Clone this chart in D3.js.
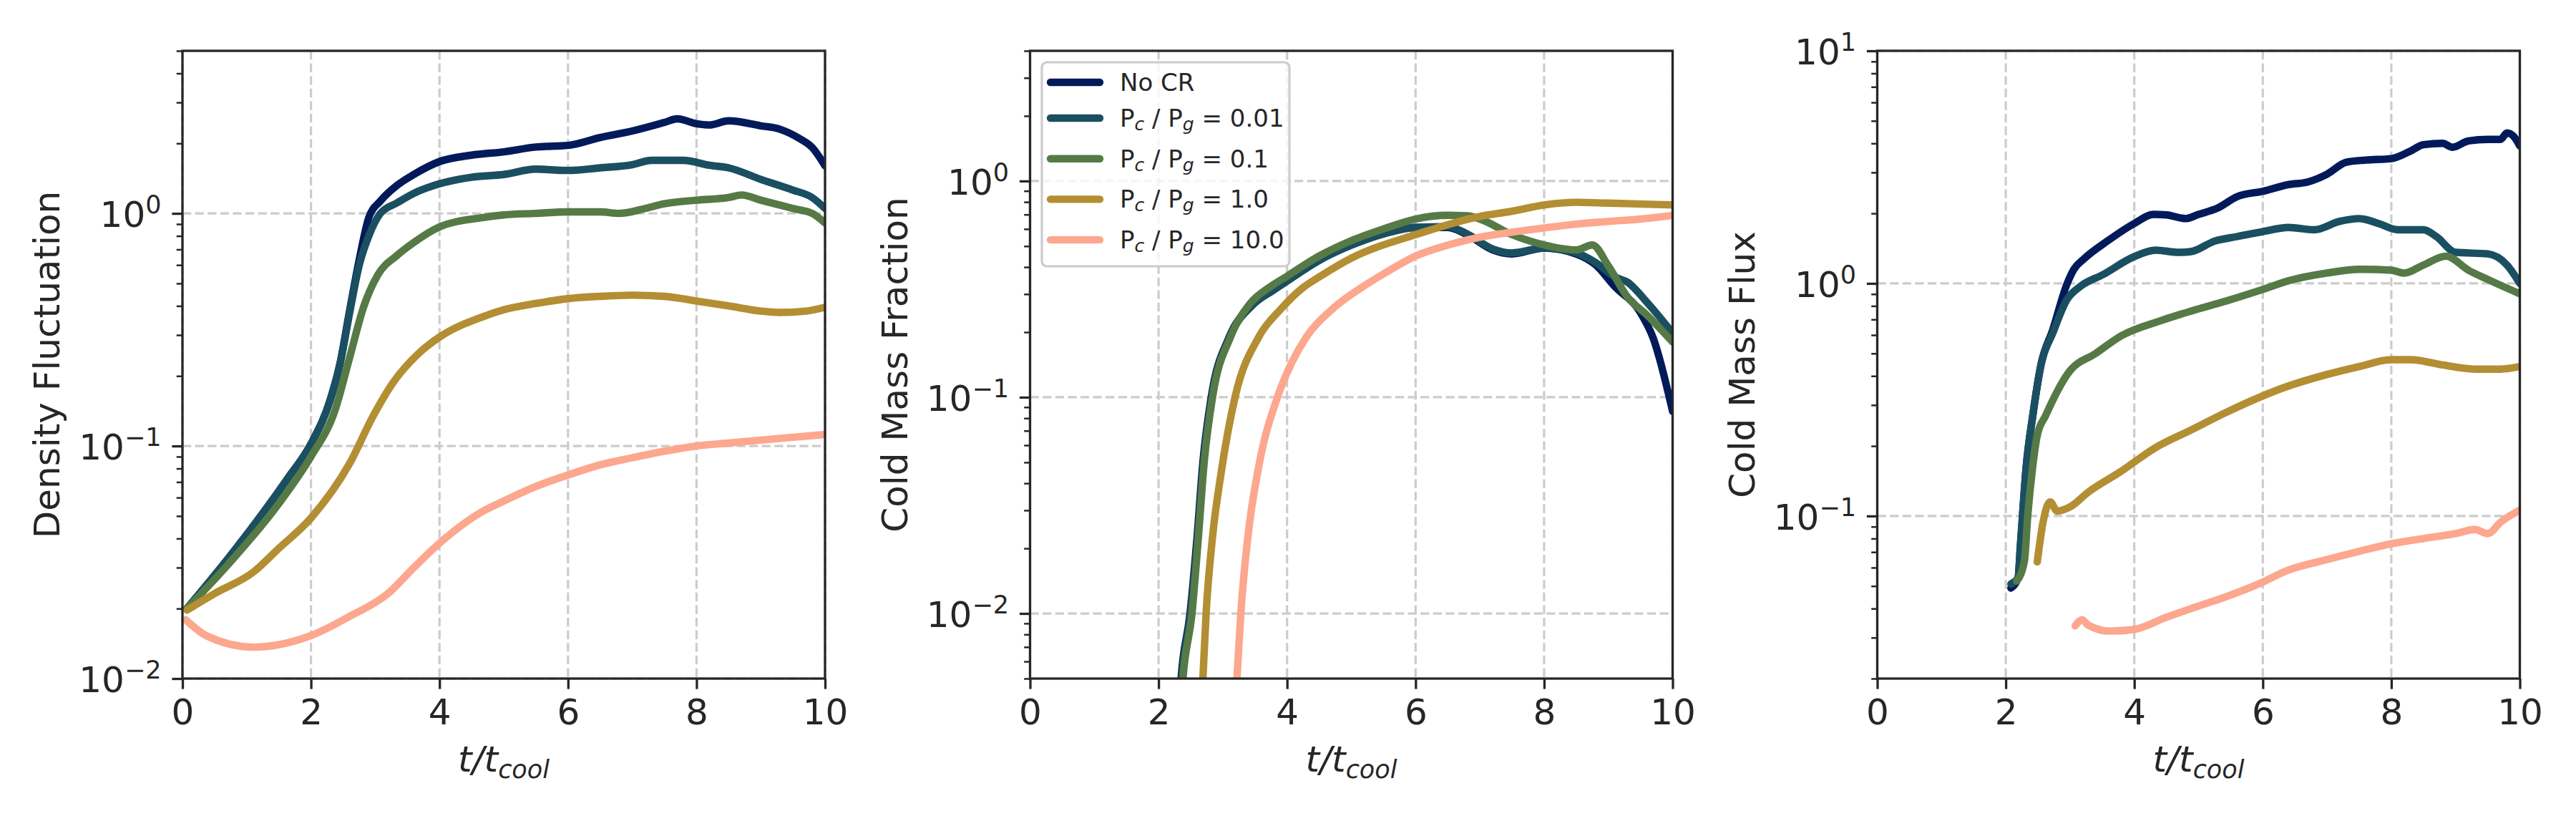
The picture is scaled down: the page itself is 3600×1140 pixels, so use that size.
<!DOCTYPE html>
<html>
<head>
<meta charset="utf-8">
<script src="https://cdn.jsdelivr.net/npm/d3@7"></script>
<style>
  body { margin: 0; background: #fff; }
  svg text { font-family: "DejaVu Sans", sans-serif; fill: #262626; }
</style>
</head>
<body>
<div id="chart"></div>
<script>
// Series labels and colours
const seriesNames = ["No CR", "0.01", "0.1", "1.0", "10.0"];
const seriesColors = ["#031a5a", "#1a4f61", "#567a46", "#b38e33", "#fca78e"];

const xTicks = [0, 2, 4, 6, 8, 10];

// Panel 1: density fluctuation  [t/tcool, value]
const densNoCR = [[0.07,0.02],[0.74,0.0336],[1.63,0.072],[2,0.102],[2.3,0.158],[2.45,0.225],[2.6,0.38],[2.75,0.63],[2.9,0.96],[3.08,1.13],[3.34,1.32],[3.6,1.47],[4,1.67],[4.5,1.78],[5,1.84],[5.5,1.93],[6,1.96],[6.5,2.12],[7,2.26],[7.5,2.46],[7.7,2.55],[8,2.43],[8.2,2.4],[8.5,2.5],[9,2.38],[9.3,2.3],[9.6,2.1],[9.8,1.92],[10,1.6]];
const densP001 = [[0.07,0.02],[0.74,0.0336],[1.63,0.072],[2,0.102],[2.3,0.158],[2.45,0.224],[2.6,0.372],[2.75,0.598],[2.9,0.8],[3.08,1.0],[3.34,1.11],[3.6,1.22],[4,1.34],[4.5,1.43],[5,1.47],[5.5,1.55],[6,1.53],[6.5,1.57],[7,1.62],[7.3,1.69],[7.8,1.69],[8.2,1.61],[8.5,1.57],[9,1.4],[9.5,1.26],[9.8,1.17],[10,1.05]];
const densP01 = [[0.07,0.02],[0.74,0.0316],[1.63,0.0633],[2,0.09],[2.38,0.144],[2.6,0.239],[2.82,0.397],[3.04,0.544],[3.34,0.66],[3.6,0.75],[4,0.875],[4.68,0.96],[5,0.985],[5.5,1.0],[6,1.015],[6.5,1.015],[6.8,1.0],[7.2,1.05],[7.5,1.1],[8,1.14],[8.5,1.17],[8.7,1.2],[9,1.14],[9.5,1.05],[9.8,1.0],[10,0.91]];
const densP1 = [[0.07,0.0197],[0.5,0.0232],[1.11,0.0288],[1.5,0.0363],[2,0.049],[2.6,0.084],[2.97,0.135],[3.27,0.186],[3.71,0.255],[4,0.294],[4.68,0.36],[5,0.385],[5.5,0.41],[6,0.43],[6.5,0.44],[7,0.445],[7.5,0.44],[8,0.42],[8.5,0.4],[9,0.38],[9.3,0.375],[9.7,0.38],[10,0.395]];
const densP10 = [[0.05,0.0179],[0.37,0.0153],[1.11,0.01365],[2,0.0153],[2.6,0.0185],[3.19,0.0231],[3.6,0.03],[4,0.0382],[4.68,0.0525],[5,0.058],[5.5,0.067],[6,0.075],[6.5,0.083],[7,0.089],[7.5,0.095],[8,0.1],[8.5,0.103],[9,0.106],[9.5,0.109],[10,0.112]];

// Panel 2: cold mass fraction
const fracNoCR = [[2.3,0.003],[2.35,0.005],[2.49,0.01],[2.6,0.0226],[2.69,0.05],[2.82,0.1],[3.1,0.19],[3.45,0.265],[3.8,0.315],[4,0.345],[4.5,0.43],[5,0.506],[5.5,0.57],[6,0.61],[6.5,0.61],[6.8,0.565],[7.2,0.48],[7.5,0.46],[8,0.49],[8.5,0.46],[8.8,0.41],[9.1,0.325],[9.5,0.246],[9.7,0.187],[10,0.086]];
const fracP001 = [[2.31,0.003],[2.36,0.005],[2.5,0.01],[2.61,0.0226],[2.7,0.05],[2.83,0.1],[3.11,0.19],[3.45,0.265],[3.8,0.315],[4,0.345],[4.5,0.43],[5,0.505],[5.5,0.57],[6,0.61],[6.5,0.615],[6.8,0.57],[7.2,0.485],[7.5,0.465],[8,0.49],[8.5,0.465],[8.8,0.42],[9.1,0.36],[9.3,0.34],[9.6,0.275],[10,0.198]];
const fracP01 = [[2.33,0.003],[2.38,0.005],[2.52,0.01],[2.62,0.0226],[2.71,0.05],[2.84,0.1],[3.12,0.19],[3.42,0.27],[3.75,0.326],[4,0.363],[4.5,0.45],[5,0.53],[5.5,0.6],[6,0.667],[6.5,0.694],[6.8,0.69],[7,0.667],[7.5,0.565],[8,0.506],[8.5,0.48],[8.75,0.506],[9,0.405],[9.3,0.29],[9.6,0.24],[10,0.18]];
const fracP1 = [[2.64,0.003],[2.69,0.005],[2.74,0.01],[2.84,0.0226],[2.97,0.044],[3.19,0.1],[3.56,0.19],[3.9,0.255],[4.24,0.32],[4.5,0.36],[5,0.44],[6,0.565],[7,0.686],[7.5,0.725],[8,0.775],[8.5,0.797],[9,0.79],[10,0.775]];
const fracP10 = [[3.17,0.003],[3.22,0.005],[3.28,0.01],[3.39,0.0226],[3.56,0.048],[3.85,0.1],[4.08,0.146],[4.3,0.19],[4.7,0.255],[5.19,0.326],[5.5,0.372],[6,0.45],[6.5,0.505],[7,0.55],[7.5,0.58],[8,0.607],[8.5,0.632],[9,0.65],[9.5,0.667],[10,0.694]];

// Panel 3: cold mass flux
const fluxNoCR = [[2.08,0.049],[2.19,0.054],[2.23,0.075],[2.32,0.165],[2.42,0.27],[2.55,0.45],[2.73,0.63],[2.95,0.99],[3.06,1.15],[3.21,1.27],[3.58,1.52],[4,1.81],[4.3,1.98],[4.5,1.97],[4.8,1.9],[5,1.98],[5.3,2.11],[5.6,2.36],[6,2.49],[6.4,2.66],[6.7,2.73],[7,2.95],[7.3,3.32],[7.6,3.39],[8,3.44],[8.3,3.71],[8.5,3.95],[8.8,4.0],[8.95,3.85],[9.2,4.1],[9.5,4.16],[9.7,4.16],[9.8,4.44],[9.9,4.3],[10,3.9]];
const fluxP001 = [[2.08,0.051],[2.19,0.054],[2.23,0.077],[2.32,0.164],[2.42,0.27],[2.55,0.45],[2.73,0.61],[2.95,0.85],[3.17,0.975],[3.51,1.09],[3.99,1.3],[4.33,1.39],[4.69,1.36],[4.88,1.37],[5.25,1.52],[5.6,1.59],[6,1.67],[6.4,1.74],[6.8,1.7],[7.2,1.85],[7.5,1.9],[7.8,1.81],[8.1,1.7],[8.5,1.7],[8.7,1.59],[9,1.36],[9.5,1.34],[9.8,1.2],[10,1.0]];
const fluxP01 = [[2.17,0.0525],[2.29,0.064],[2.34,0.099],[2.42,0.164],[2.49,0.222],[2.62,0.27],[2.99,0.418],[3.4,0.5],[3.8,0.596],[4.4,0.69],[4.88,0.76],[5.43,0.84],[5.99,0.94],[6.4,1.026],[7,1.108],[7.5,1.15],[8,1.14],[8.2,1.108],[8.5,1.2],[8.85,1.31],[9.2,1.14],[9.5,1.04],[10,0.902]];
const fluxP1 = [[2.49,0.0635],[2.58,0.094],[2.69,0.115],[2.8,0.105],[2.99,0.109],[3.29,0.127],[3.8,0.156],[4.32,0.196],[4.88,0.234],[5.43,0.279],[6.36,0.359],[7,0.406],[7.5,0.439],[8,0.47],[8.3,0.47],[8.8,0.446],[9.3,0.428],[9.7,0.428],[10,0.439]];
const fluxP10 = [[3.08,0.0337],[3.19,0.0358],[3.28,0.034],[3.62,0.032],[3.99,0.0325],[4.51,0.0368],[5,0.041],[5.43,0.045],[6,0.052],[6.36,0.058],[7,0.065],[7.5,0.0705],[8,0.076],[8.5,0.08],[9,0.084],[9.3,0.0875],[9.5,0.084],[9.7,0.094],[10,0.106]];

const panels = [
  { label: "Density Fluctuation", domain: [0.01, 5], majors: [-2, -1, 0],
    series: [densNoCR, densP001, densP01, densP1, densP10] },
  { label: "Cold Mass Fraction", domain: [0.005, 4], majors: [-2, -1, 0],
    series: [fracNoCR, fracP001, fracP01, fracP1, fracP10], legend: true },
  { label: "Cold Mass Flux", domain: [0.02, 10], majors: [-1, 0, 1],
    series: [fluxNoCR, fluxP001, fluxP01, fluxP1, fluxP10] }
];

// Layout
const width = 3600, height = 1140;
const panelLeft = [255, 1439.5, 2623.5];
const axTop = 71, axW = 898, axH = 877;
const fontSize = 50;
const dark = "#262626";

const svg = d3.select("#chart").append("svg")
  .attr("width", width)
  .attr("height", height);

panels.forEach((p, pi) => {
  const g = svg.append("g").attr("transform", `translate(${panelLeft[pi]},${axTop})`);

  const x = d3.scaleLinear().domain([0, 10]).range([0, axW]);
  const y = d3.scaleLog().domain(p.domain).range([axH, 0]);

  // minor tick values
  const minors = [];
  for (let k = -4; k <= 2; k++) {
    for (let m = 2; m <= 9; m++) {
      const v = m * Math.pow(10, k);
      if (v >= p.domain[0] * 0.999 && v <= p.domain[1] * 1.001) minors.push(v);
    }
  }
  const majorVals = p.majors.map(k => Math.pow(10, k));

  // grid
  g.append("g").selectAll("line.gx")
    .data(xTicks).enter().append("line")
    .attr("x1", d => x(d)).attr("x2", d => x(d))
    .attr("y1", 0).attr("y2", axH)
    .attr("stroke", "#cccccc").attr("stroke-width", 3.2)
    .attr("stroke-dasharray", "12.3,5.3");
  g.append("g").selectAll("line.gy")
    .data(majorVals).enter().append("line")
    .attr("x1", 0).attr("x2", axW)
    .attr("y1", d => y(d)).attr("y2", d => y(d))
    .attr("stroke", "#cccccc").attr("stroke-width", 3.2)
    .attr("stroke-dasharray", "12.3,5.3");

  // clip
  const clipId = "clip" + pi;
  g.append("clipPath").attr("id", clipId)
    .append("rect").attr("width", axW).attr("height", axH);

  const line = d3.line()
    .x(d => x(d[0]))
    .y(d => y(d[1]))
    .curve(d3.curveMonotoneX);

  g.append("g").attr("clip-path", `url(#${clipId})`)
    .selectAll("path")
    .data(p.series).enter().append("path")
    .attr("d", line)
    .attr("fill", "none")
    .attr("stroke", (d, i) => seriesColors[i])
    .attr("stroke-width", 10.4)
    .attr("stroke-linecap", "round")
    .attr("stroke-linejoin", "round");

  // x axis ticks
  const xAxis = g.append("g").attr("transform", `translate(0,${axH})`)
    .call(d3.axisBottom(x).tickValues(xTicks).tickSize(14.6).tickPadding(14).tickFormat(d3.format("d")));
  xAxis.select(".domain").remove();
  xAxis.selectAll(".tick line").attr("stroke", dark).attr("stroke-width", 3.3);
  xAxis.selectAll(".tick text").attr("font-size", fontSize).attr("fill", dark)
    .attr("font-family", "DejaVu Sans");

  // y axis ticks
  const yAxis = g.append("g")
    .call(d3.axisLeft(y).tickValues(majorVals).tickSize(14.6).tickFormat(""));
  yAxis.select(".domain").remove();
  yAxis.selectAll(".tick line").attr("stroke", dark).attr("stroke-width", 3.3);
  yAxis.selectAll(".tick text").remove();

  const yMinor = g.append("g")
    .call(d3.axisLeft(y).tickValues(minors).tickSize(8.3).tickFormat(""));
  yMinor.select(".domain").remove();
  yMinor.selectAll(".tick line").attr("stroke", dark).attr("stroke-width", 2.5);

  // y tick labels as 10^k
  const lab = g.append("g").selectAll("text")
    .data(p.majors).enter().append("text")
    .attr("x", -29.5)
    .attr("y", d => y(Math.pow(10, d)) + 19)
    .attr("text-anchor", "end")
    .attr("font-size", fontSize);
  lab.append("tspan").text("10");
  lab.append("tspan")
    .attr("dy", -19)
    .attr("font-size", fontSize * 0.7)
    .text(d => d < 0 ? "\u2212" + Math.abs(d) : String(d));

  // spines
  g.append("rect").attr("width", axW).attr("height", axH)
    .attr("fill", "none").attr("stroke", dark).attr("stroke-width", 3.3);

  // y label
  g.append("text")
    .attr("transform", `translate(${-172},${axH / 2}) rotate(-90)`)
    .attr("text-anchor", "middle")
    .attr("font-size", fontSize)
    .text(p.label);

  // x label t/t_cool
  const xl = g.append("text")
    .attr("x", axW / 2).attr("y", 1078 - axTop)
    .attr("text-anchor", "middle")
    .attr("font-size", fontSize)
    .attr("font-style", "italic");
  xl.append("tspan").text("t/t");
  xl.append("tspan").attr("dy", 9).attr("font-size", fontSize * 0.7).text("cool");

  // legend
  if (p.legend) {
    const lg = g.append("g").attr("transform", "translate(16.5,16)");
    lg.append("rect")
      .attr("width", 346).attr("height", 285)
      .attr("rx", 7).attr("ry", 7)
      .attr("fill", "#ffffff").attr("fill-opacity", 0.8)
      .attr("stroke", "#cccccc").attr("stroke-width", 3.2);
    const rowY = i => i === 0 ? 28 : 78 + (i - 1) * 56.7;
    const items = lg.selectAll("g.item")
      .data(seriesNames).enter().append("g")
      .attr("transform", (d, i) => `translate(0,${rowY(i)})`);
    items.append("line")
      .attr("x1", 12).attr("x2", 81)
      .attr("stroke", (d, i) => seriesColors[i])
      .attr("stroke-width", 10.4)
      .attr("stroke-linecap", "round");
    items.each(function (d, i) {
      const t = d3.select(this).append("text")
        .attr("x", 109).attr("y", 12)
        .attr("font-size", 34);
      if (i === 0) {
        t.text(d);
      } else {
        t.append("tspan").text("P");
        t.append("tspan").attr("dy", 5).attr("font-size", 25).attr("font-style", "italic").text("c");
        t.append("tspan").attr("dy", -5).text(" / P");
        t.append("tspan").attr("dy", 5).attr("font-size", 25).attr("font-style", "italic").text("g");
        t.append("tspan").attr("dy", -5).text(" = " + d);
      }
    });
  }
});
</script>
</body>
</html>
